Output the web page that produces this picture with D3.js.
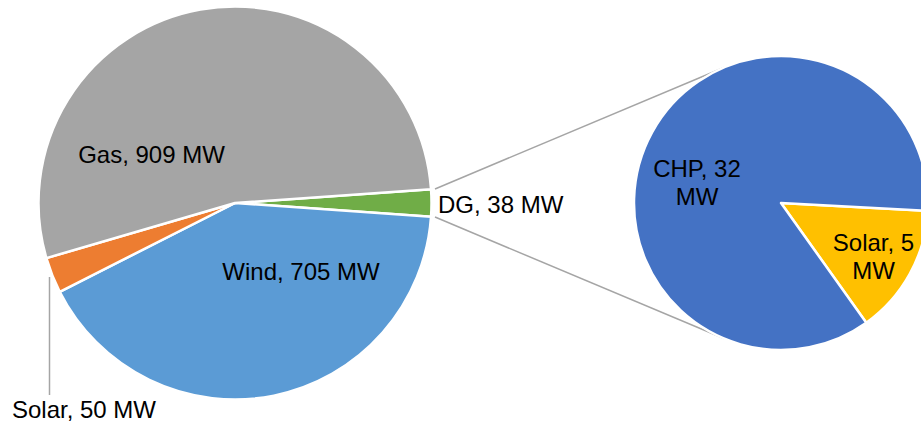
<!DOCTYPE html>
<html>
<head>
<meta charset="utf-8">
<script src="https://cdn.jsdelivr.net/npm/d3@7"></script>
<style>
  body { margin: 0; background: #fff; }
  text { font-family: "Liberation Sans", Arial, sans-serif; font-size: 24px; fill: #000; }
</style>
</head>
<body>
<script>
// pie of pie: capacity by source, DG broken out in the second pie

const mainNames = ["DG", "Wind", "Solar", "Gas"];
const mainValues = [38, 705, 50, 909];
const mainColors = ["#70AD47", "#5B9BD5", "#ED7D31", "#A5A5A5"];

const subNames = ["Solar", "CHP"];
const subValues = [5.4, 32.4];
const subColors = ["#FFC000", "#4472C4"];

const width = 921, height = 429;

const svg = d3.select("body").append("svg")
    .attr("width", width)
    .attr("height", height);

const deg = Math.PI / 180;

// main pie
const mainC = {x: 235, y: 203, r: 196.5};
const dgSpan = mainValues[0] / d3.sum(mainValues) * 2 * Math.PI;
const mainStart = Math.PI / 2 - dgSpan / 2;   // DG centred on the right

const mainPie = d3.pie().sort(null).value(d => d)
    .startAngle(mainStart).endAngle(mainStart + 2 * Math.PI);
const mainArcs = mainPie(mainValues);
const mainArc = d3.arc().innerRadius(0).outerRadius(mainC.r);

const gMain = svg.append("g").attr("transform", `translate(${mainC.x},${mainC.y})`);
gMain.selectAll("path").data(mainArcs).join("path")
    .attr("d", mainArc)
    .attr("fill", (d, i) => mainColors[i])
    .attr("stroke", "#fff")
    .attr("stroke-width", 2.5)
    .attr("stroke-linejoin", "round");

// second pie
const subC = {x: 781, y: 203, r: 147};
const subStart = 93.1 * deg;
const subPie = d3.pie().sort(null).value(d => d)
    .startAngle(subStart).endAngle(subStart + 2 * Math.PI);
const subArcs = subPie(subValues);
const subArc = d3.arc().innerRadius(0).outerRadius(subC.r);

const gSub = svg.append("g").attr("transform", `translate(${subC.x},${subC.y})`);
gSub.selectAll("path").data(subArcs).join("path")
    .attr("d", subArc)
    .attr("fill", (d, i) => subColors[i])
    .attr("stroke", "#fff")
    .attr("stroke-width", 2.5)
    .attr("stroke-linejoin", "round");

// connector lines from the DG slice to tangent points of the second pie
function polar(c, r, a) {   // d3 angle: clockwise from north
  return [c.x + r * Math.sin(a), c.y - r * Math.cos(a)];
}
const dg = mainArcs[0];
[[dg.startAngle, -1], [dg.endAngle, 1]].forEach(([a, side]) => {
  const p = polar(mainC, mainC.r + 4, a);
  const dx = p[0] - subC.x, dy = p[1] - subC.y;
  const d = Math.hypot(dx, dy);
  const base = Math.atan2(dy, dx);
  const t = base - side * Math.acos(subC.r / d);
  const q = [subC.x + subC.r * Math.cos(t), subC.y + subC.r * Math.sin(t)];
  svg.append("line")
      .attr("x1", p[0]).attr("y1", p[1])
      .attr("x2", q[0]).attr("y2", q[1])
      .attr("stroke", "#A5A5A5")
      .attr("stroke-width", 1.5);
});
// redraw the second pie on top so the lines tuck under it
svg.node().appendChild(gSub.node());

// leader for the small solar slice
svg.append("line")
    .attr("x1", 49.5).attr("y1", 277)
    .attr("x2", 49.5).attr("y2", 395)
    .attr("stroke", "#A5A5A5")
    .attr("stroke-width", 1.5);

// labels
const fmt = d3.format(".0f");
const mainLabelPos = [
  {x: 438, y: 213, anchor: "start"},
  {x: 301, y: 280, anchor: "middle"},
  {x: 84, y: 418, anchor: "middle"},
  {x: 151.5, y: 163, anchor: "middle"}
];
mainNames.forEach((n, i) => {
  svg.append("text")
      .attr("x", mainLabelPos[i].x)
      .attr("y", mainLabelPos[i].y)
      .attr("text-anchor", mainLabelPos[i].anchor)
      .text(`${n}, ${fmt(mainValues[i])} MW`);
});

const subLabelPos = [
  {x: 873.5, y: 251},
  {x: 697, y: 177}
];
subNames.forEach((n, i) => {
  const t = svg.append("text")
      .attr("text-anchor", "middle")
      .attr("x", subLabelPos[i].x)
      .attr("y", subLabelPos[i].y);
  t.append("tspan").attr("x", subLabelPos[i].x).text(`${n}, ${fmt(subValues[i])}`);
  t.append("tspan").attr("x", subLabelPos[i].x).attr("dy", 28).text("MW");
});
</script>
</body>
</html>
